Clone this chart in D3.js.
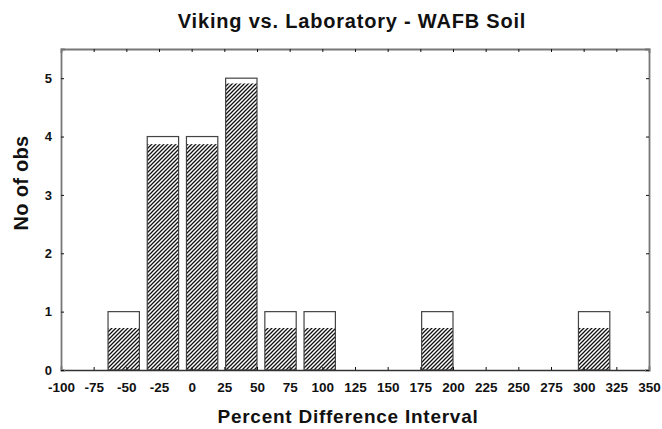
<!DOCTYPE html>
<html>
<head>
<meta charset="utf-8">
<script src="https://cdn.jsdelivr.net/npm/d3@7"></script>
<style>
  body { margin: 0; background: #fff; }
  text { font-family: "Liberation Sans", Arial, sans-serif; font-weight: bold; fill: #111; }
</style>
</head>
<body>
<div id="chart"></div>
<script>
// histogram bins (lower edge), bin width 30 over -100..350
const binStarts = [-70, -40, -10, 20, 50, 80, 170, 290];
const counts    = [1, 4, 4, 5, 1, 1, 1, 1];
const hatched   = [0.72, 3.87, 3.87, 4.91, 0.72, 0.72, 0.72, 0.72];
const binWidth = 30;
const xTicks = [-100, -75, -50, -25, 0, 25, 50, 75, 100, 125, 150, 175, 200, 225, 250, 275, 300, 325, 350];
const yTicks = [0, 1, 2, 3, 4, 5];

const width = 662, height = 429;
const margin = {top: 49, right: 13, bottom: 59, left: 61};

const svg = d3.select("#chart").append("svg")
    .attr("width", width)
    .attr("height", height);

svg.append("defs").append("pattern")
    .attr("id", "hatch")
    .attr("patternUnits", "userSpaceOnUse")
    .attr("width", 4)
    .attr("height", 4)
  .append("path")
    .attr("d", "M-1,1 l2,-2 M0,4 l4,-4 M3,5 l2,-2")
    .attr("stroke", "#111")
    .attr("stroke-width", 1.3);

const x = d3.scaleLinear().domain([-100, 350]).range([margin.left, width - margin.right]);
const y = d3.scaleLinear().domain([0, 5.5]).range([height - margin.bottom, margin.top]);

const g = svg.append("g");

// bars: white outline of full count, hatched part inside
const bars = g.selectAll(".bar")
    .data(binStarts.map((b, i) => ({start: b, n: counts[i], h: hatched[i]})))
    .enter().append("g");

const barX = d => x(d.start) + (x(binWidth) - x(0)) * 0.2;
const barW = (x(binWidth) - x(0)) * 0.8;

bars.append("rect")
    .attr("x", barX)
    .attr("y", d => y(d.n))
    .attr("width", barW)
    .attr("height", d => y(0) - y(d.n))
    .attr("fill", "#fff");

bars.append("rect")
    .attr("x", barX)
    .attr("y", d => y(d.h))
    .attr("width", barW)
    .attr("height", d => y(0) - y(d.h))
    .attr("fill", "url(#hatch)");

bars.append("rect")
    .attr("x", barX)
    .attr("y", d => y(d.n))
    .attr("width", barW)
    .attr("height", d => y(0) - y(d.n))
    .attr("fill", "none")
    .attr("stroke", "#444")
    .attr("stroke-width", 1.2);

// axes, ticks pointing inward
const frame = svg.append("g");
frame.append("g")
    .attr("transform", `translate(0,${y(0)})`)
    .call(d3.axisBottom(x).tickValues(xTicks).tickSize(-3).tickPadding(12).tickFormat(d => String(d)))
    .call(a => a.select(".domain").attr("stroke", "#333").attr("stroke-width", 1.6))
    .call(a => a.selectAll("text").attr("font-size", 13.5).attr("fill", "#111"));

frame.append("g")
    .attr("transform", `translate(0,${margin.top})`)
    .call(d3.axisTop(x).tickValues(xTicks).tickSize(-3).tickFormat(""))
    .call(a => a.select(".domain").attr("stroke", "#777").attr("stroke-width", 1.8));

frame.append("g")
    .attr("transform", `translate(${margin.left},0)`)
    .call(d3.axisLeft(y).tickValues(yTicks).tickSize(-3).tickPadding(9).tickFormat(d => String(d)))
    .call(a => a.select(".domain").attr("stroke", "#777").attr("stroke-width", 1.8))
    .call(a => a.selectAll("text").attr("font-size", 13).attr("fill", "#111"));

frame.append("g")
    .attr("transform", `translate(${width - margin.right},0)`)
    .call(d3.axisRight(y).tickValues(yTicks).tickSize(-3).tickFormat(""))
    .call(a => a.select(".domain").attr("stroke", "#777").attr("stroke-width", 1.8));

frame.selectAll("path.domain").attr("stroke-linecap", "square");
frame.selectAll(".tick line").attr("stroke", "#111");

// titles
svg.append("text")
    .attr("x", 352)
    .attr("y", 28)
    .attr("text-anchor", "middle")
    .attr("font-size", 20)
    .attr("letter-spacing", 0.8)
    .text("Viking vs. Laboratory - WAFB Soil");

svg.append("text")
    .attr("x", 348)
    .attr("y", 423)
    .attr("text-anchor", "middle")
    .attr("font-size", 19)
    .attr("letter-spacing", 0.75)
    .text("Percent Difference Interval");

svg.append("text")
    .attr("transform", "translate(28,183) rotate(-90)")
    .attr("text-anchor", "middle")
    .attr("font-size", 20)
    .attr("letter-spacing", 0.3)
    .text("No of obs");
</script>
</body>
</html>
